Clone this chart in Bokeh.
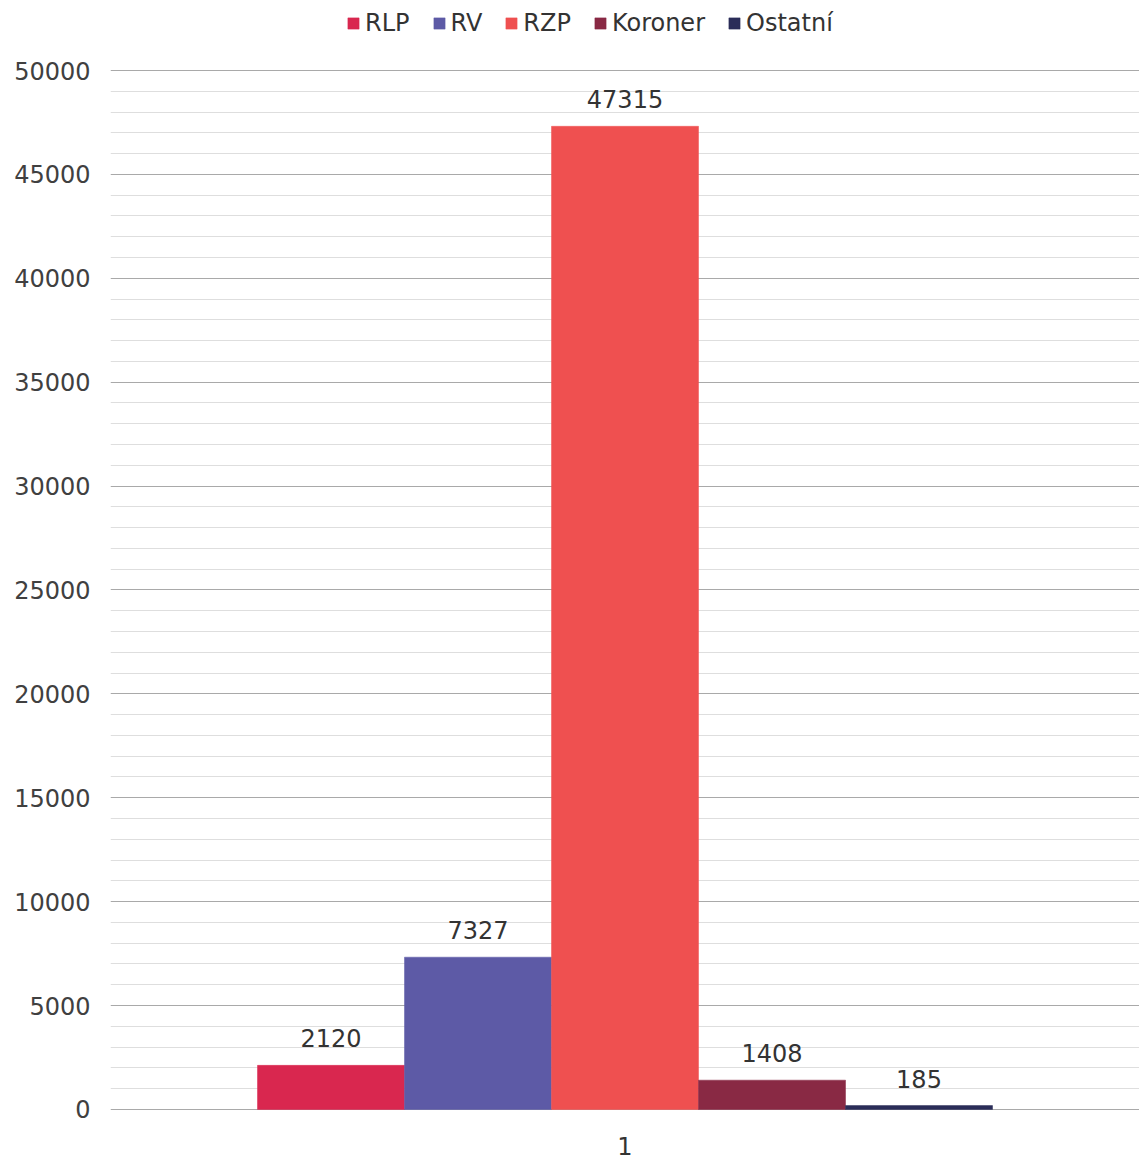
from bokeh.plotting import figure
from bokeh.models import (FactorRange, Range1d, FixedTicker, Legend, LegendItem,
                          ColumnDataSource)
from bokeh.transform import dodge
from bokeh.core.properties import value
from bokeh.embed import file_html
from bokeh.resources import INLINE

# ---- data ----
category = ["1"]
series = ["RLP", "RV", "RZP", "Koroner", "Ostatní"]
counts = [2120, 7327, 47315, 1408, 185]
colors = ["#D9274F", "#5D5AA6", "#EF5050", "#892944", "#2B2D59"]
major_ticks = [0, 5000, 10000, 15000, 20000, 25000, 30000, 35000, 40000, 45000, 50000]
minor_ticks = [v for v in range(0, 50001, 1000) if v % 5000 != 0]

FONT = "DejaVu Sans"
FS = "24px"

p = figure(width=1139, height=1160, output_backend="svg", toolbar_location=None,
           x_range=FactorRange(factors=category), y_range=Range1d(-100, 53370),
           min_border_left=110, min_border_right=0, min_border_top=0,
           min_border_bottom=49)
p.outline_line_color = None
p.background_fill_color = "white"

n = len(series)
bw = 1.0 / 7
items = []
for i, (name, val, col) in enumerate(zip(series, counts, colors)):
    src = ColumnDataSource(dict(x=category, y=[val], t=[str(val)]))
    off = (i - (n - 1) / 2) * bw
    r = p.vbar(x=dodge("x", off, range=p.x_range), top="y", bottom=0, width=bw,
               source=src, fill_color=col, line_color=col, line_width=0.5)
    p.text(x=dodge("x", off, range=p.x_range), y="y", text="t", source=src,
           text_align="center", text_baseline="alphabetic", y_offset=-27,
           text_font=value(FONT), text_font_size=FS, text_color="#333333")
    items.append(LegendItem(label=name, renderers=[r]))

# axes
p.yaxis.ticker = FixedTicker(ticks=major_ticks, minor_ticks=minor_ticks)
p.yaxis.axis_line_color = None
p.yaxis.major_tick_line_color = None
p.yaxis.minor_tick_line_color = None
p.yaxis.major_label_standoff = 14
p.yaxis.major_label_text_font = FONT
p.yaxis.major_label_text_font_size = FS
p.yaxis.major_label_text_color = "#404040"

p.xaxis.axis_line_color = None
p.xaxis.major_tick_line_color = None
p.xaxis.minor_tick_line_color = None
p.xaxis.major_label_standoff = 19
p.xaxis.major_label_text_font = FONT
p.xaxis.major_label_text_font_size = FS
p.xaxis.major_label_text_color = "#333333"

# grids
p.xgrid.grid_line_color = None
p.ygrid.grid_line_color = "#a9a9a9"
p.ygrid.grid_line_width = 1.2
p.ygrid.minor_grid_line_color = "#dedede"
p.ygrid.minor_grid_line_width = 1

legend = Legend(items=items, orientation="horizontal", location=(236, 1074),
                glyph_width=14, glyph_height=14, label_standoff=5, spacing=22,
                padding=2, margin=0, border_line_color=None,
                background_fill_alpha=0,
                label_text_font=FONT, label_text_font_size=FS,
                label_text_color="#333333")
p.add_layout(legend, "center")

open("out.html", "w").write(file_html(p, INLINE))
